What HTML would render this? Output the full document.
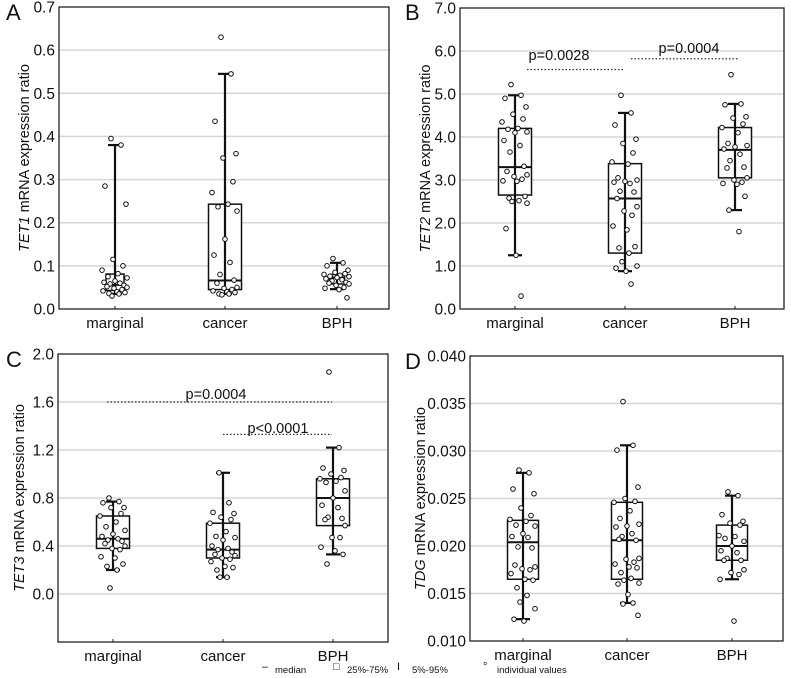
<!DOCTYPE html>
<html><head><meta charset="utf-8">
<style>
html,body{margin:0;padding:0;background:#fff;}
svg{display:block;font-family:"Liberation Sans",sans-serif;}
</style></head>
<body>
<svg id="fig" width="791" height="678" viewBox="0 0 791 678" xmlns="http://www.w3.org/2000/svg"></svg>
<script>
const categories = ["marginal","cancer","BPH"];
// Panel A: TET1
const aQ1=[0.043,0.045,0.058], aMed=[0.056,0.066,0.073], aQ3=[0.081,0.243,0.080], aLo=[0.035,0.035,0.046], aHi=[0.38,0.545,0.107];
const aPts=[[0.395,0.38,0.285,0.243,0.115,0.1,0.09,0.082,0.075,0.072,0.065,0.062,0.06,0.058,0.055,0.052,0.05,0.048,0.045,0.042,0.04,0.038,0.036,0.035,0.03],
[0.63,0.545,0.435,0.36,0.35,0.295,0.27,0.243,0.237,0.227,0.162,0.125,0.108,0.08,0.067,0.06,0.05,0.048,0.045,0.042,0.04,0.038,0.035,0.035,0.033],
[0.117,0.107,0.1,0.09,0.085,0.082,0.08,0.078,0.076,0.075,0.073,0.07,0.068,0.065,0.062,0.06,0.058,0.055,0.05,0.048,0.045,0.026]];
const aTicks=["0.0","0.1","0.2","0.3","0.4","0.5","0.6","0.7"];
// Panel B: TET2
const bQ1=[2.65,1.3,3.05], bMed=[3.3,2.57,3.7], bQ3=[4.2,3.38,4.22], bLo=[1.25,0.88,2.3], bHi=[4.97,4.56,4.77];
const bPts=[[5.22,4.97,4.9,4.7,4.53,4.42,4.35,4.2,4.18,4.12,4.1,3.92,3.8,3.65,3.32,3.2,3.12,3.08,3.02,2.98,2.97,2.62,2.58,2.52,2.5,2.46,1.87,1.25,0.3],
[4.97,4.56,4.28,3.95,3.85,3.63,3.42,3.37,3.05,3,2.97,2.95,2.92,2.74,2.72,2.57,2.38,2.28,2.18,1.93,1.84,1.45,1.42,1.3,1.1,1.0,0.95,0.88,0.58],
[5.45,4.77,4.75,4.47,4.44,4.3,4.22,4.1,3.85,3.8,3.77,3.72,3.6,3.45,3.3,3.28,3.05,3.0,2.95,2.92,2.9,2.62,2.3,1.8]];
const bTicks=["0.0","1.0","2.0","3.0","4.0","5.0","6.0","7.0"];
// Panel C: TET3
const cQ1=[0.38,0.3,0.57], cMed=[0.46,0.37,0.8], cQ3=[0.65,0.59,0.96], cLo=[0.2,0.14,0.33], cHi=[0.77,1.01,1.22];
const cPts=[[0.8,0.77,0.76,0.72,0.72,0.67,0.65,0.6,0.56,0.53,0.5,0.48,0.46,0.45,0.44,0.42,0.4,0.38,0.37,0.31,0.3,0.25,0.23,0.2,0.05],
[1.01,0.76,0.68,0.67,0.64,0.62,0.59,0.52,0.48,0.47,0.45,0.4,0.38,0.37,0.35,0.33,0.32,0.3,0.29,0.27,0.23,0.22,0.2,0.14,0.14],
[1.85,1.22,1.05,1.03,1.0,0.97,0.96,0.94,0.93,0.86,0.8,0.74,0.72,0.64,0.63,0.62,0.57,0.47,0.47,0.39,0.36,0.33,0.25]];
const cTicks=["0.0","0.4","0.8","1.2","1.6","2.0"];
// Panel D: TDG
const dQ1=[0.0165,0.0165,0.0185], dMed=[0.0204,0.0206,0.02], dQ3=[0.0227,0.0246,0.0222], dLo=[0.0123,0.014,0.0165], dHi=[0.0277,0.0306,0.0253];
const dPts=[[0.028,0.0277,0.026,0.0255,0.024,0.0232,0.0228,0.0226,0.0222,0.0221,0.0213,0.021,0.0209,0.0199,0.0198,0.018,0.0178,0.0176,0.0175,0.0171,0.0165,0.0164,0.0156,0.0148,0.0141,0.0134,0.0123,0.0121],
[0.0352,0.0306,0.0301,0.0262,0.025,0.0247,0.0246,0.0237,0.0229,0.0223,0.0221,0.022,0.0213,0.021,0.0206,0.0207,0.0187,0.0186,0.0183,0.0181,0.0178,0.0177,0.0172,0.0166,0.0164,0.0161,0.016,0.0149,0.014,0.0139,0.0127],
[0.0257,0.0253,0.0233,0.0226,0.0224,0.0222,0.0211,0.021,0.0208,0.0205,0.02,0.0195,0.0193,0.0187,0.0185,0.0185,0.0175,0.0172,0.017,0.0165,0.0121]];
const dTicks=["0.010","0.015","0.020","0.025","0.030","0.035","0.040"];

const NS="http://www.w3.org/2000/svg";
const svg=document.getElementById('fig');
const jit=[-4,6,-10,11,-2,8,-13,3,-7,12,0,-11,5,-5,9,-8,12,-1,7,-12,2,10,-6,4,-3,12,-9,1,6,-4,11];
function el(tag,attrs,parent){const e=document.createElementNS(NS,tag);for(const k in attrs)e.setAttribute(k,attrs[k]);(parent||svg).appendChild(e);return e;}

function panel(cfg){
  const g=el('g',{});
  
  
  const y=v=>cfg.bottom-(v-cfg.ymin)/(cfg.ymax-cfg.ymin)*(cfg.bottom-cfg.top);
  cfg.ticks.forEach(t=>{
    const v=parseFloat(t), yy=y(v);
    if(yy>cfg.top+1 && yy<cfg.bottom-1){
      const gl=el('line',{x1:cfg.left,x2:cfg.right,y1:yy,y2:yy,stroke:'#d6d6d6','stroke-width':1.5},g);
      
      
    }
    const tl=el('text',{x:cfg.left-4,y:yy+5.5,'text-anchor':'end','font-size':15.5,fill:'#111'},g);
    tl.textContent=t;
    
    
  });
  const fr=el('rect',{x:cfg.left,y:cfg.top,width:cfg.right-cfg.left,height:cfg.bottom-cfg.top,fill:'none',stroke:'#222','stroke-width':1.3},g);
  
  
  categories.forEach((c,i)=>{
    const cx=cfg.cx[i];
    el('line',{x1:cx,x2:cx,y1:cfg.bottom,y2:cfg.bottom-3,stroke:'#222'},g);
    const t=el('text',{x:cx,y:cfg.bottom+19,'text-anchor':'middle','font-size':15,fill:'#111'},g);
    t.textContent=c;
    
    
  });
  categories.forEach((c,i)=>{
    const cx=cfg.cx[i], w=cfg.bw[i];
    [cfg.lo[i],cfg.hi[i]].forEach(v=>{
      const cap=el('line',{x1:cx-7,x2:cx+7,y1:y(v),y2:y(v),stroke:'#111','stroke-width':2.2},g);
      
      
    });
    const bx=el('rect',{x:cx-w/2,y:y(cfg.q3[i]),width:w,height:y(cfg.q1[i])-y(cfg.q3[i]),fill:'#fff',stroke:'#111','stroke-width':1.5},g);
    
    
    const md=el('line',{x1:cx-w/2,x2:cx+w/2,y1:y(cfg.med[i]),y2:y(cfg.med[i]),stroke:'#111','stroke-width':2},g);
    
    
    const wh2=el('line',{x1:cx,x2:cx,y1:y(cfg.lo[i]),y2:y(cfg.hi[i]),stroke:'#111','stroke-width':2.2},g);
    
    
    cfg.pts[i].forEach((v,j)=>{
      const p=el('circle',{cx:cx+jit[j%jit.length],cy:y(v),r:2.3,fill:'#fff',stroke:'#111','stroke-width':1},g);
      
      
    });
  });
  (cfg.pv||[]).forEach(p=>{
    const l=el('line',{x1:p.x1,x2:p.x2,y1:y(p.v),y2:y(p.v),stroke:'#333','stroke-width':1.3,'stroke-dasharray':'1.5,2'},g);
    
    
    const t=el('text',{x:p.tx,y:p.ty,'text-anchor':'middle','font-size':14.5,fill:'#111'},g);
    t.textContent=p.label;
    
    
  });
  const my=(cfg.top+cfg.bottom)/2;
  const yt=el('text',{x:0,y:0,transform:`translate(${cfg.tx},${my}) rotate(-90)`,'text-anchor':'middle','font-size':14.5,fill:'#111'},g);
  
  
  const ts=el('tspan',{'font-style':'italic'},yt); ts.textContent=cfg.gene;
  const ts2=el('tspan',{},yt); ts2.textContent=' mRNA expression ratio';
  const pl=el('text',{x:cfg.lx,y:cfg.ly,'font-size':22,fill:'#111'},g);
  pl.textContent=cfg.id;
  
  
}

panel({id:'A',gene:'TET1',left:59,right:389,top:7,bottom:309,ymin:0,ymax:0.7,ticks:aTicks,cx:[115,225,337],bw:[18,33,15],
  q1:aQ1,med:aMed,q3:aQ3,lo:aLo,hi:aHi,pts:aPts,lx:6,ly:20,tx:29});
panel({id:'B',gene:'TET2',left:460,right:784,top:8,bottom:309,ymin:0,ymax:7,ticks:bTicks,cx:[515,625,735],bw:[33,33,33],
  q1:bQ1,med:bMed,q3:bQ3,lo:bLo,hi:bHi,pts:bPts,lx:405,ly:20,tx:430,
  pv:[{v:5.57,x1:527,x2:625,tx:559,ty:60,label:'p=0.0028'},{v:5.82,x1:631,x2:738,tx:689,ty:53,label:'p=0.0004'}]});
panel({id:'C',gene:'TET3',left:58,right:388,top:354,bottom:642,ymin:-0.4,ymax:2.0,ticks:cTicks,cx:[113,223,333],bw:[33,33,33],
  q1:cQ1,med:cMed,q3:cQ3,lo:cLo,hi:cHi,pts:cPts,lx:6,ly:367,tx:24,
  pv:[{v:1.6,x1:107,x2:332,tx:216,ty:399,label:'p=0.0004'},{v:1.33,x1:223,x2:332,tx:278,ty:433,label:'p<0.0001'}]});
panel({id:'D',gene:'TDG',left:470,right:783,top:356,bottom:641,ymin:0.010,ymax:0.040,ticks:dTicks,cx:[523,627,732],bw:[31,31,31],
  q1:dQ1,med:dMed,q3:dQ3,lo:dLo,hi:dHi,pts:dPts,lx:405,ly:369,tx:425});

const lg=el('g',{});


const items=[["–",262,"median",275],["□",333,"25%-75%",347],["I",397,"5%-95%",412],["°",483,"individual values",497]];
items.forEach(it=>{
  const s=el('text',{x:it[1],y:670,'font-size':11,fill:'#111'},lg); s.textContent=it[0];
  
  
  const t=el('text',{x:it[3],y:673,'font-size':9.5,fill:'#111'},lg); t.textContent=it[2];
  
  
});
</script>
</body></html>
